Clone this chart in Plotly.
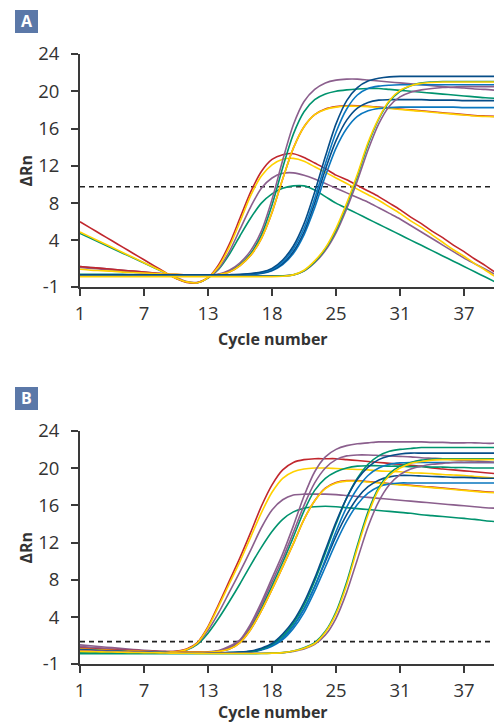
import plotly.graph_objects as go

CYCLES = list(range(1, 41))
X_TICK_VALS = [1, 7, 13, 19, 25, 31, 37]
X_TICK_TEXT = ["1", "7", "13", "18", "25", "31", "37"]
Y_TICK_VALS = [-1, 4, 8, 12, 16, 20, 24]
Y_TICK_TEXT = ["-1", "4", "8", "12", "16", "20", "24"]
THRESHOLD_A = 9.76
THRESHOLD_B = 1.4

RED = "#c1272d"
YELLOW = "#ffd100"
PURPLE = "#8b5f8d"
GREEN = "#00936e"
BLUE = "#0a77bf"
DBLUE = "#064d88"
AXIS = "#3a3a3a"

# ---------------- Panel A (incorrect baseline) ----------------
A_green_bell = [4.75, 4.22, 3.69, 3.16, 2.63, 2.1, 1.57, 1.04, 0.51, -0.05, -0.45, -0.55, -0.05, 0.9, 2.5, 4.5, 6.4, 8.0, 9.0, 9.6,
                9.85, 9.85, 9.4, 8.7, 8.0, 7.43, 6.87, 6.3, 5.73, 5.17, 4.6, 4.03, 3.47, 2.9, 2.33, 1.77, 1.2, 0.63, 0.07, -0.5]
A_purple_bell = [1.2, 1.1, 1.0, 0.9, 0.8, 0.7, 0.6, 0.5, 0.4, 0.05, -0.4, -0.5, 0.0, 1.0, 2.8, 5.2, 7.6, 9.6, 10.7, 11.2,
                 11.25, 11.0, 10.6, 10.1, 9.6, 9.1, 8.6, 8.1, 7.5, 6.9, 6.3, 5.6, 4.9, 4.2, 3.5, 2.8, 2.1, 1.5, 0.9, 0.3]
A_red_bell = [6.0, 5.32, 4.64, 3.96, 3.28, 2.6, 1.92, 1.24, 0.56, -0.1, -0.5, -0.55, 0.0, 1.4, 3.6, 6.4, 9.2, 11.4, 12.7, 13.2,
              13.3, 12.9, 12.3, 11.7, 11.0, 10.5, 9.9, 9.3, 8.7, 8.0, 7.3, 6.5, 5.8, 5.0, 4.3, 3.5, 2.8, 2.0, 1.3, 0.5]
A_yellow_bell = [4.9, 4.35, 3.8, 3.26, 2.71, 2.16, 1.61, 1.07, 0.52, -0.05, -0.45, -0.55, 0.0, 1.2, 3.3, 6.0, 8.8, 10.9, 12.1, 12.7,
                 12.8, 12.5, 11.9, 11.3, 10.7, 10.1, 9.5, 8.9, 8.3, 7.6, 6.9, 6.1, 5.4, 4.6, 3.8, 3.0, 2.3, 1.5, 0.8, 0.05]

A_purple_2 = [1.1, 1.0, 0.9, 0.8, 0.7, 0.6, 0.5, 0.45, 0.35, 0.3, 0.3, 0.3, 0.3, 0.4, 0.8, 1.6, 2.9, 5.0, 8.4, 12.6,
              16.4, 18.9, 20.2, 20.9, 21.2, 21.3, 21.3, 21.2, 21.1, 21.0, 20.9, 20.8, 20.7, 20.6, 20.5, 20.4, 20.35, 20.25, 20.2, 20.1]
A_green_2 = [0.35, 0.35, 0.35, 0.35, 0.35, 0.33, 0.32, 0.31, 0.3, 0.3, 0.3, 0.3, 0.3, 0.35, 0.7, 1.4, 2.6, 4.6, 7.8, 11.8,
             15.4, 17.8, 19.1, 19.7, 20.0, 20.15, 20.25, 20.3, 20.3, 20.2, 20.1, 20.0, 19.9, 19.8, 19.7, 19.6, 19.5, 19.4, 19.3, 19.25]
A_red_2 = [1.2, 1.1, 1.0, 0.9, 0.8, 0.7, 0.6, 0.5, 0.4, 0.35, 0.3, 0.3, 0.3, 0.35, 0.6, 1.3, 2.4, 4.2, 7.0, 10.6,
           13.9, 16.2, 17.5, 18.1, 18.35, 18.45, 18.45, 18.4, 18.3, 18.2, 18.1, 18.0, 17.9, 17.8, 17.7, 17.6, 17.5, 17.4, 17.35, 17.3]
A_yellow_2 = [0.9, 0.8, 0.75, 0.7, 0.6, 0.55, 0.5, 0.45, 0.4, 0.35, 0.3, 0.3, 0.3, 0.35, 0.6, 1.3, 2.4, 4.2, 7.0, 10.6,
              13.9, 16.2, 17.5, 18.05, 18.3, 18.4, 18.4, 18.35, 18.25, 18.15, 18.05, 17.95, 17.85, 17.75, 17.65, 17.55, 17.45, 17.35, 17.3, 17.25]

A_dblue_3a = [0.3, 0.3, 0.3, 0.3, 0.3, 0.3, 0.3, 0.3, 0.3, 0.3, 0.3, 0.3, 0.3, 0.3, 0.32, 0.35, 0.45, 0.6, 1.0, 1.9,
              3.4, 5.8, 9.2, 13.0, 16.5, 19.0, 20.4, 21.1, 21.4, 21.55, 21.6, 21.6, 21.6, 21.6, 21.6, 21.6, 21.6, 21.6, 21.6, 21.6]
A_blue_3a = [0.25, 0.25, 0.25, 0.25, 0.25, 0.25, 0.25, 0.25, 0.25, 0.25, 0.25, 0.25, 0.25, 0.25, 0.27, 0.3, 0.4, 0.55, 0.9, 1.7,
             3.1, 5.3, 8.5, 12.2, 15.6, 18.1, 19.6, 20.3, 20.55, 20.65, 20.7, 20.7, 20.7, 20.7, 20.7, 20.7, 20.7, 20.7, 20.7, 20.7]
A_dblue_3b = [0.3, 0.3, 0.3, 0.3, 0.3, 0.3, 0.3, 0.3, 0.3, 0.3, 0.3, 0.3, 0.3, 0.3, 0.3, 0.32, 0.38, 0.5, 0.8, 1.5,
              2.8, 4.9, 8.0, 11.6, 14.7, 16.9, 18.2, 18.8, 19.05, 19.1, 19.1, 19.1, 19.1, 19.05, 19.05, 19.05, 19.0, 19.0, 19.0, 19.0]
A_blue_3b = [0.25, 0.25, 0.25, 0.25, 0.25, 0.25, 0.25, 0.25, 0.25, 0.25, 0.25, 0.25, 0.25, 0.25, 0.25, 0.27, 0.32, 0.45, 0.75, 1.4,
             2.6, 4.6, 7.5, 10.9, 13.9, 16.0, 17.3, 17.9, 18.15, 18.25, 18.3, 18.3, 18.3, 18.3, 18.3, 18.3, 18.25, 18.25, 18.25, 18.25]

A_purple_4 = [0.2, 0.2, 0.2, 0.2, 0.2, 0.2, 0.2, 0.2, 0.2, 0.2, 0.2, 0.2, 0.2, 0.2, 0.2, 0.2, 0.2, 0.2, 0.2, 0.2,
              0.3, 0.7, 1.6, 2.9, 4.8, 7.4, 10.4, 13.7, 16.5, 18.4, 19.4, 19.9, 20.15, 20.3, 20.4, 20.45, 20.5, 20.5, 20.5, 20.5]
A_green_4 = [0.15, 0.15, 0.15, 0.15, 0.15, 0.15, 0.15, 0.15, 0.15, 0.15, 0.15, 0.15, 0.15, 0.15, 0.15, 0.15, 0.15, 0.15, 0.15, 0.2,
             0.3, 0.75, 1.7, 3.1, 5.1, 7.8, 10.9, 14.3, 17.0, 18.9, 20.0, 20.6, 20.9, 21.0, 21.05, 21.05, 21.05, 21.05, 21.05, 21.05]
A_yellow_4 = [0.1, 0.1, 0.1, 0.1, 0.1, 0.1, 0.1, 0.1, 0.1, 0.1, 0.1, 0.1, 0.1, 0.1, 0.1, 0.1, 0.1, 0.1, 0.1, 0.15,
              0.3, 0.8, 1.8, 3.2, 5.3, 8.0, 11.1, 14.5, 17.1, 19.0, 20.1, 20.6, 20.85, 20.95, 21.0, 21.0, 21.0, 21.0, 21.0, 21.0]

# ---------------- Panel B (corrected baseline) ----------------
B_green_1 = [0.15, 0.15, 0.15, 0.15, 0.15, 0.15, 0.15, 0.15, 0.18, 0.22, 0.5, 1.1, 2.3, 3.9, 5.7, 7.6, 9.6, 11.5, 13.2, 14.5,
             15.3, 15.7, 15.85, 15.9, 15.85, 15.75, 15.65, 15.55, 15.45, 15.35, 15.25, 15.15, 15.0, 14.9, 14.8, 14.7, 14.6, 14.5, 14.35, 14.25]
B_purple_1 = [1.05, 0.95, 0.85, 0.75, 0.65, 0.55, 0.47, 0.4, 0.35, 0.35, 0.55, 1.2, 2.6, 4.5, 6.7, 8.9, 11.2, 13.6, 15.5, 16.6,
              17.1, 17.2, 17.2, 17.2, 17.15, 17.05, 16.95, 16.85, 16.75, 16.65, 16.55, 16.45, 16.35, 16.25, 16.15, 16.05, 15.95, 15.85, 15.75, 15.7]
B_red_1 = [0.8, 0.72, 0.65, 0.58, 0.52, 0.46, 0.4, 0.36, 0.33, 0.35, 0.6, 1.3, 3.0, 5.4, 7.9, 10.4, 13.1, 15.9, 18.2, 19.8,
           20.6, 20.9, 21.0, 21.0, 21.0, 20.9, 20.8, 20.7, 20.6, 20.5, 20.4, 20.3, 20.2, 20.0, 19.9, 19.8, 19.7, 19.6, 19.5, 19.4]
B_yellow_1 = [0.55, 0.5, 0.45, 0.42, 0.38, 0.35, 0.32, 0.3, 0.28, 0.3, 0.55, 1.25, 2.9, 5.2, 7.6, 10.0, 12.6, 15.2, 17.4, 18.9,
              19.6, 19.9, 20.0, 20.0, 19.95, 19.9, 19.85, 19.8, 19.7, 19.65, 19.6, 19.5, 19.45, 19.4, 19.3, 19.25, 19.2, 19.1, 19.0, 18.9]

B_purple_2a = [0.9, 0.8, 0.7, 0.6, 0.5, 0.45, 0.4, 0.35, 0.3, 0.3, 0.3, 0.3, 0.3, 0.45, 0.9, 1.6, 3.3, 5.6, 8.2, 10.8,
               13.8, 17.0, 19.6, 21.2, 22.0, 22.4, 22.6, 22.7, 22.8, 22.8, 22.8, 22.8, 22.8, 22.75, 22.75, 22.7, 22.7, 22.7, 22.65, 22.65]
B_purple_2b = [0.7, 0.62, 0.55, 0.5, 0.45, 0.4, 0.36, 0.32, 0.3, 0.28, 0.28, 0.28, 0.28, 0.4, 0.8, 1.5, 3.1, 5.3, 7.8, 10.3,
               13.1, 16.0, 18.4, 20.0, 20.9, 21.3, 21.4, 21.4, 21.35, 21.3, 21.25, 21.2, 21.1, 21.05, 21.0, 20.9, 20.8, 20.75, 20.7, 20.6]
B_green_2 = [0.3, 0.3, 0.3, 0.3, 0.3, 0.3, 0.3, 0.3, 0.28, 0.27, 0.27, 0.27, 0.28, 0.38, 0.7, 1.4, 2.9, 5.0, 7.4, 9.9,
             12.6, 15.4, 17.6, 18.9, 19.6, 20.0, 20.2, 20.25, 20.25, 20.2, 20.2, 20.15, 20.15, 20.1, 20.1, 20.05, 20.05, 20.0, 20.0, 20.0]
B_red_2 = [0.65, 0.6, 0.55, 0.5, 0.45, 0.4, 0.36, 0.33, 0.3, 0.28, 0.27, 0.27, 0.27, 0.35, 0.6, 1.3, 2.7, 4.7, 7.0, 9.4,
           11.9, 14.5, 16.5, 17.85, 18.45, 18.65, 18.65, 18.55, 18.45, 18.35, 18.25, 18.15, 18.05, 17.95, 17.85, 17.75, 17.65, 17.55, 17.45, 17.4]
B_yellow_2 = [0.6, 0.55, 0.5, 0.45, 0.4, 0.37, 0.34, 0.31, 0.29, 0.27, 0.26, 0.26, 0.26, 0.35, 0.6, 1.3, 2.7, 4.7, 7.0, 9.4,
              11.9, 14.5, 16.5, 17.8, 18.4, 18.6, 18.6, 18.5, 18.4, 18.3, 18.2, 18.1, 18.0, 17.9, 17.8, 17.7, 17.6, 17.5, 17.4, 17.35]

B_green_3 = [0.3, 0.28, 0.26, 0.24, 0.22, 0.2, 0.2, 0.2, 0.2, 0.2, 0.2, 0.2, 0.2, 0.2, 0.22, 0.25, 0.35, 0.6, 1.1, 2.0,
             3.4, 5.3, 7.9, 10.9, 14.0, 16.8, 18.9, 20.4, 21.3, 21.8, 22.0, 22.1, 22.2, 22.2, 22.2, 22.2, 22.2, 22.2, 22.2, 22.2]
B_dblue_3a = [0.55, 0.5, 0.45, 0.4, 0.35, 0.3, 0.27, 0.24, 0.22, 0.2, 0.2, 0.2, 0.2, 0.2, 0.22, 0.28, 0.4, 0.7, 1.2, 2.2,
              3.6, 5.6, 8.2, 11.2, 14.2, 16.8, 18.8, 20.1, 20.9, 21.3, 21.5, 21.6, 21.6, 21.6, 21.6, 21.6, 21.6, 21.6, 21.6, 21.6]
B_blue_3a = [0.5, 0.46, 0.42, 0.38, 0.34, 0.3, 0.27, 0.24, 0.22, 0.2, 0.2, 0.2, 0.2, 0.2, 0.22, 0.26, 0.35, 0.55, 1.0, 1.8,
             3.1, 4.9, 7.3, 10.2, 13.2, 15.8, 17.8, 19.2, 20.0, 20.4, 20.55, 20.6, 20.6, 20.6, 20.6, 20.6, 20.6, 20.6, 20.6, 20.6]
B_dblue_3b = [0.45, 0.42, 0.38, 0.35, 0.32, 0.29, 0.26, 0.24, 0.22, 0.2, 0.2, 0.2, 0.2, 0.2, 0.2, 0.22, 0.3, 0.55, 1.0, 1.8,
              3.1, 4.9, 7.3, 10.0, 12.7, 15.0, 16.8, 18.0, 18.7, 19.05, 19.2, 19.2, 19.15, 19.1, 19.05, 19.0, 19.0, 18.95, 18.9, 18.9]
B_blue_3b = [0.4, 0.37, 0.34, 0.31, 0.29, 0.27, 0.25, 0.23, 0.21, 0.2, 0.2, 0.2, 0.2, 0.2, 0.2, 0.22, 0.28, 0.5, 0.9, 1.6,
             2.8, 4.5, 6.8, 9.4, 12.0, 14.3, 16.1, 17.3, 18.0, 18.3, 18.4, 18.4, 18.4, 18.4, 18.4, 18.4, 18.4, 18.4, 18.4, 18.4]

B_purple_4 = [0.45, 0.42, 0.38, 0.35, 0.32, 0.29, 0.26, 0.24, 0.22, 0.2, 0.18, 0.17, 0.16, 0.15, 0.15, 0.15, 0.15, 0.15, 0.16, 0.2,
              0.35, 0.6, 1.1, 2.1, 3.9, 6.7, 10.2, 13.7, 16.4, 18.2, 19.3, 19.9, 20.2, 20.4, 20.5, 20.6, 20.6, 20.6, 20.6, 20.6]
B_green_4 = [0.1, 0.1, 0.1, 0.1, 0.1, 0.1, 0.1, 0.1, 0.1, 0.1, 0.1, 0.1, 0.1, 0.1, 0.1, 0.1, 0.1, 0.12, 0.16, 0.22,
             0.4, 0.75, 1.3, 2.5, 4.6, 7.8, 11.7, 15.3, 17.9, 19.4, 20.2, 20.6, 20.85, 20.95, 21.0, 21.0, 21.0, 21.0, 21.0, 21.0]
B_yellow_4 = [0.35, 0.33, 0.3, 0.28, 0.26, 0.24, 0.22, 0.2, 0.18, 0.16, 0.15, 0.14, 0.13, 0.12, 0.12, 0.12, 0.12, 0.13, 0.16, 0.22,
              0.4, 0.7, 1.2, 2.4, 4.4, 7.5, 11.4, 15.0, 17.7, 19.2, 20.0, 20.5, 20.7, 20.85, 20.9, 20.9, 20.9, 20.9, 20.9, 20.9]

PANEL_A = [
    (A_green_bell, GREEN), (A_purple_bell, PURPLE), (A_red_bell, RED), (A_yellow_bell, YELLOW),
    (A_green_2, GREEN), (A_purple_2, PURPLE), (A_red_2, RED), (A_yellow_2, YELLOW),
    (A_blue_3b, BLUE), (A_dblue_3b, DBLUE), (A_blue_3a, BLUE), (A_dblue_3a, DBLUE),
    (A_purple_4, PURPLE), (A_green_4, GREEN), (A_yellow_4, YELLOW),
]
PANEL_B = [
    (B_green_1, GREEN), (B_purple_1, PURPLE), (B_red_1, RED), (B_yellow_1, YELLOW),
    (B_green_2, GREEN), (B_purple_2b, PURPLE), (B_purple_2a, PURPLE), (B_red_2, RED), (B_yellow_2, YELLOW),
    (B_blue_3b, BLUE), (B_dblue_3b, DBLUE), (B_blue_3a, BLUE), (B_green_3, GREEN), (B_dblue_3a, DBLUE),
    (B_purple_4, PURPLE), (B_green_4, GREEN), (B_yellow_4, YELLOW),
]

# the page body has an 8px margin, so the figure is shifted by OFF on screen
OFF = 8
W, H = 502 - OFF, 724 - OFF
X_MAX = 40.37

fig = go.Figure()

def add_panel(curves, thr, xa, ya):
    fig.add_trace(go.Scatter(x=[1, X_MAX], y=[thr, thr], mode="lines", xaxis=xa, yaxis=ya,
                             line=dict(color="#222222", width=1.6, dash="5px,4px"),
                             showlegend=False, hoverinfo="skip"))
    for vals, col in curves:
        fig.add_trace(go.Scatter(x=CYCLES, y=vals, mode="lines", xaxis=xa, yaxis=ya,
                                 line=dict(color=col, width=1.6, shape="spline", smoothing=0.8),
                                 showlegend=False, hoverinfo="skip"))

add_panel(PANEL_A, THRESHOLD_A, "x", "y")
add_panel(PANEL_B, THRESHOLD_B, "x2", "y2")

def px2x(px):
    return (px - OFF) / W

def py2y(py):
    return 1 - (py - OFF) / H

tickfont = dict(family="Open Sans", size=18.5, color="#333333")
xcommon = dict(range=[1, X_MAX], tickvals=X_TICK_VALS, ticktext=X_TICK_TEXT, ticks="outside", ticklen=7,
               tickwidth=1.8, tickcolor=AXIS, showline=True, linecolor=AXIS, linewidth=1.8, showgrid=False,
               zeroline=False, tickfont=tickfont, domain=[px2x(80), px2x(500)], ticklabelstandoff=2,
               automargin=False)
ycommon = dict(range=[-1, 24], tickvals=Y_TICK_VALS, ticktext=Y_TICK_TEXT, ticks="outside", ticklen=7,
               tickwidth=1.8, tickcolor=AXIS, showline=True, linecolor=AXIS, linewidth=1.8, showgrid=False,
               zeroline=False, tickfont=tickfont, ticklabelstandoff=8, automargin=False)

fig.update_layout(
    width=W, height=H, margin=dict(l=0, r=0, t=0, b=0, autoexpand=False),
    paper_bgcolor="white", plot_bgcolor="white",
    xaxis=dict(**xcommon, anchor="y"),
    yaxis=dict(**ycommon, domain=[py2y(287), py2y(54)], anchor="x"),
    xaxis2=dict(**xcommon, anchor="y2"),
    yaxis2=dict(**ycommon, domain=[py2y(664), py2y(430.7)], anchor="x2"),
)

anns = []
shapes = []
for label, top, ymid, xtitle_y in [("A", 10, 170.5, 339), ("B", 387, 547.5, 712)]:
    shapes.append(dict(type="rect", xref="paper", yref="paper", x0=px2x(15), x1=px2x(38),
                       y0=py2y(top + 23), y1=py2y(top), fillcolor="#5b78a8", line=dict(width=0), layer="above"))
    anns.append(dict(text="<b>%s</b>" % label, x=px2x(26.5), y=py2y(top + 11.5), xref="paper", yref="paper",
                     showarrow=False, font=dict(family="Open Sans", size=16, color="white"),
                     xanchor="center", yanchor="middle"))
    anns.append(dict(text="<b>ΔRn</b>", x=px2x(25), y=py2y(ymid), xref="paper", yref="paper", textangle=-90,
                     showarrow=False, font=dict(family="Open Sans", size=16, color="#333333"),
                     xanchor="center", yanchor="middle"))
    anns.append(dict(text="<b>Cycle number</b>", x=px2x(273), y=py2y(xtitle_y), xref="paper", yref="paper",
                     showarrow=False, font=dict(family="Open Sans", size=16, color="#333333"),
                     xanchor="center", yanchor="middle"))
fig.update_layout(annotations=anns, shapes=shapes)

fig.write_html("out.html")
